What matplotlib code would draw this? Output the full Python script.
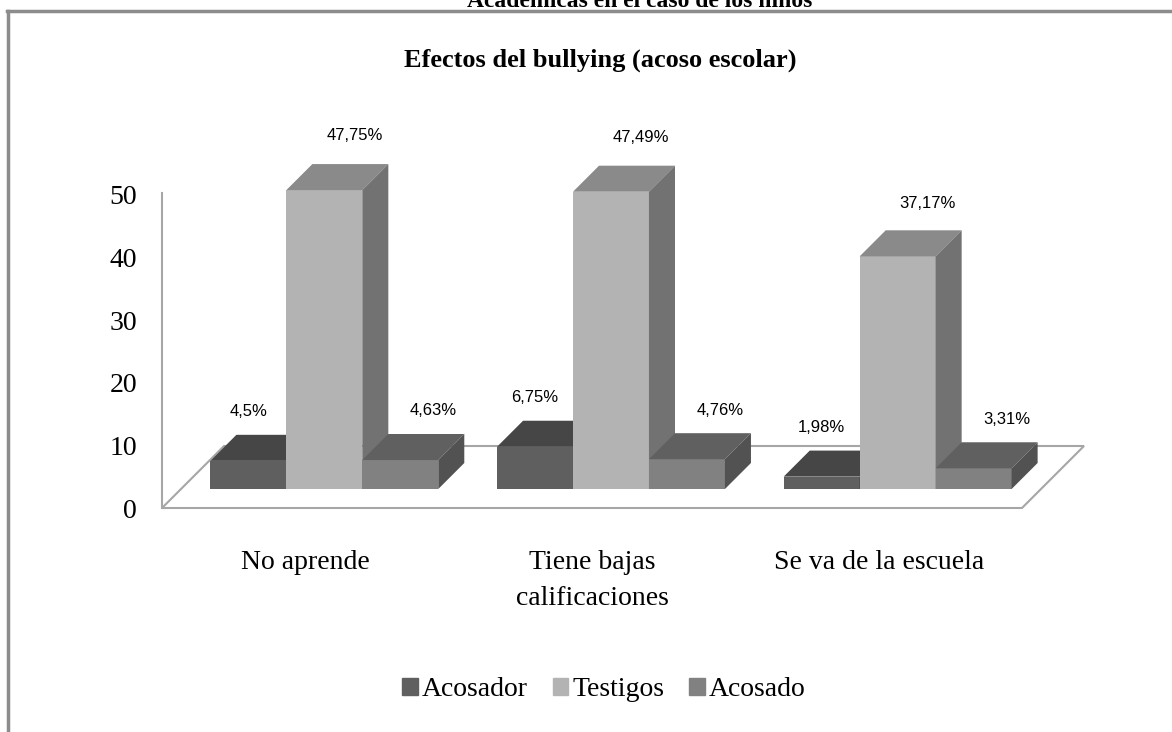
import matplotlib
matplotlib.use('Agg')
import matplotlib.pyplot as plt
from matplotlib.patches import Polygon, Patch
from matplotlib.lines import Line2D

categories = ['No aprende', 'Tiene bajas\ncalificaciones', 'Se va de la escuela']
series = ['Acosador', 'Testigos', 'Acosado']
acosador = [4.5, 6.75, 1.98]
testigos = [47.75, 47.49, 37.17]
acosado = [4.63, 4.76, 3.31]
yticks = [0, 10, 20, 30, 40, 50]

plt.rcParams['font.family'] = ['Liberation Serif', 'DejaVu Serif']

# colours per series: front, top, side
front = ['#5f5f5f', '#b3b3b3', '#818181']
top = ['#464646', '#8a8a8a', '#606060']
side = ['#3c3c3c', '#727272', '#525252']
label_dx = [0.0, 0.105, 0.115]


def fmt(v):
    return f'{v:g}'.replace('.', ',') + '%'


W, H = 1172, 732
fig = plt.figure(figsize=(W / 100, H / 100), dpi=100)
ax = fig.add_axes([162 / W, 1 - 508 / H, 860 / W, 313 / H])
ax.set_xlim(0, 3)
ax.set_ylim(0, 50)
ax.patch.set_alpha(0)
for s in ax.spines.values():
    s.set_visible(False)

# fake 3d depth (oblique projection)
DX = 62 / 286.67
DY = 62 / 6.26
d0 = 0.306
dep = 0.42
bw = 0.265
base = d0 * DY

floor = Polygon([(0, 0), (3, 0), (3 + DX, DY), (DX, DY)], closed=True,
                facecolor='white', edgecolor='#a6a6a6', lw=1.5,
                clip_on=False, zorder=1)
ax.add_patch(floor)
ax.plot([0, 0], [0, 50.3], color='#a6a6a6', lw=1.5, clip_on=False, zorder=1)

vals = [acosador, testigos, acosado]
for j, v in enumerate(vals):
    xs = [i + 0.5 + d0 * DX + (j - 1) * bw for i in range(len(categories))]
    bc = ax.bar(xs, v, width=bw, bottom=base, color=front[j], linewidth=0,
                clip_on=False)
    for i, rect in enumerate(bc):
        z = 2 + (i * 3 + j) * 3
        rect.set_zorder(z)
        x0 = rect.get_x()
        x1 = x0 + bw
        yt = base + v[i]
        ax.add_patch(Polygon([(x0, yt), (x1, yt), (x1 + dep * DX, yt + dep * DY),
                              (x0 + dep * DX, yt + dep * DY)],
                             facecolor=top[j], lw=0, clip_on=False, zorder=z + 1))
        ax.add_patch(Polygon([(x1, base), (x1, yt), (x1 + dep * DX, yt + dep * DY),
                              (x1 + dep * DX, base + dep * DY)],
                             facecolor=side[j], lw=0, clip_on=False, zorder=z + 2))
        ly = yt + dep * DY + 3.6 + 0.02 * v[i]
        ax.text(x0 + bw / 2 + label_dx[j], ly, fmt(v[i]), ha='center', va='center',
                fontsize=12, family=['Liberation Sans', 'DejaVu Sans'],
                zorder=60)

ax.set_yticks(yticks)
ax.set_yticklabels([str(t) for t in yticks])
ax.tick_params(axis='y', length=0, pad=18, labelsize=20)
ax.set_xticks([0.5, 1.5, 2.5])
ax.set_xticklabels(categories, linespacing=1.6)
ax.tick_params(axis='x', length=0, pad=30, labelsize=20)

fig.text(600 / W, 1 - 60 / H, 'Efectos del bullying (acoso escolar)',
         ha='center', va='center', fontsize=19, weight='bold')
fig.text(640 / W, 1 - 7 / H, 'Académicas en el caso de los niños',
         ha='center', va='baseline', fontsize=17, weight='bold')

fig.add_artist(Line2D([7 / W, 1], [1 - 11 / H, 1 - 11 / H], color='#8c8c8c', lw=2.5))
fig.add_artist(Line2D([8 / W, 8 / W], [0, 1 - 11 / H], color='#8c8c8c', lw=2.5))

handles = [Patch(color=c) for c in front]
fig.legend(handles=handles, labels=series, loc='center',
           bbox_to_anchor=(604 / W, 1 - 690 / H), ncol=3, frameon=False,
           fontsize=20, handlelength=0.55, handleheight=0.55,
           handletextpad=0.15, columnspacing=0.9)

fig.savefig('out.png', dpi=100)
